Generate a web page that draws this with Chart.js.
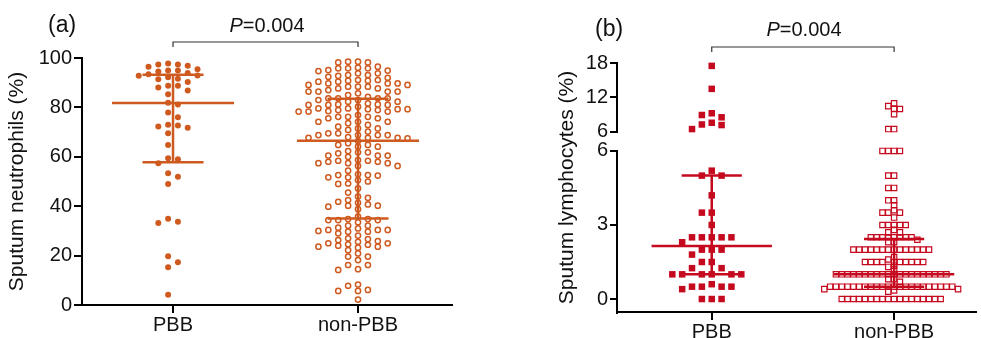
<!DOCTYPE html>
<html>
<head>
<meta charset="utf-8">
<script src="https://cdn.jsdelivr.net/npm/chart.js@4.4.1/dist/chart.umd.min.js"></script>
<style>
  html, body { margin: 0; padding: 0; background: #fff; }
  #wrap { position: relative; width: 981px; height: 338px; overflow: hidden; }
  canvas { position: absolute; top: 0; }
  #chartA { left: 0; }
  #chartB { left: 490px; }
</style>
</head>
<body>
<div id="wrap">
  <canvas id="chartA" width="490" height="338"></canvas>
  <canvas id="chartB" width="491" height="338"></canvas>
</div>
<script>
// ---- data ----
const groups = ["PBB", "non-PBB"];
const pText = "P=0.004";

// (a) sputum neutrophils (%)
const neutPBB = [97.8, 97.4, 97.4, 96.9, 96.5, 95.4, 94.9, 94.9, 94.5, 93.9, 93.4, 92.9, 92.8, 92.2,
  91.6, 91.4, 90.3, 88.8, 88.8, 88.1, 86.8, 85.3, 81.9, 81.2, 77.9, 76.0, 73.0, 72.7, 72.3, 71.8,
  69.5, 64.8, 59.4, 59.0, 57.4, 53.3, 51.9, 49.0, 34.9, 33.7, 33.2, 19.7, 17.3, 15.3, 4.2];
const neutNonPBB = [
  90.8, 79.3,
  98.2, 95.8, 90.8, 88.4, 83.7, 81.2, 79.3,
  98.2, 92.8, 89.7, 86.4, 81.2, 78.3, 68.8,
  98.5, 95.1, 88.4, 86.4, 83.7, 81.0, 78.5, 76.2, 74.2, 72.2, 69.5,
  96.1, 93.8, 91.1, 89.1, 87.0, 84.3, 81.6, 78.9, 76.2, 74.2, 71.5, 68.8,
  98.5, 95.8, 93.1, 90.4, 88.4, 86.4, 83.7, 81.0, 78.9, 76.2, 73.6, 70.9, 68.8,
  95.8, 93.1, 90.4, 87.7, 85.0, 82.3, 79.6, 76.9, 74.2, 71.5, 68.8,
  94.7, 92.4, 89.7, 86.4, 83.7, 81.0, 78.3, 75.6, 72.9, 70.2,
  94.9, 89.7, 87.7, 85.7, 83.0, 80.3, 78.3, 75.6, 69.5,
  96.5, 93.8, 91.1, 89.1, 82.3, 79.6,
  92.0, 83.0, 79.3,
  58.4,
  60.5, 57.4, 52.9,
  67.5, 64.8, 61.8, 57.4, 40.2,
  67.7, 65.5, 60.5, 57.4, 51.7, 49.2, 42.5, 40.2,
  68.0, 64.1, 60.0, 58.0, 56.3, 54.4, 52.6, 50.6, 49.0, 47.2, 45.5, 43.9, 41.8, 39.8,
  67.7, 64.8, 61.8, 52.6, 50.0, 43.4, 41.4, 38.8,
  67.7, 64.1, 60.5, 58.0, 51.7, 40.7,
  66.4, 61.4, 58.7, 56.3, 52.4,
  62.3, 58.4,
  30.4, 25.0,
  33.5, 31.0, 27.0, 24.6,
  34.8, 29.0, 25.9, 23.6, 7.8,
  34.4, 31.3, 29.7, 23.2, 20.9, 19.6, 16.2, 14.2, 5.7,
  35.8, 32.1, 26.7, 22.2, 19.6, 16.2, 5.7, 2.2,
  34.8, 32.1, 30.0, 23.6, 18.2, 14.5, 8.3, 6.1,
  34.4, 29.7, 25.6, 24.0,
  34.4, 30.4, 28.1, 26.3, 25.0,
  30.4, 24.4];
const neutMedian = [81.8, 66.5];
const neutQ1 = [57.8, 35.0];
const neutQ3 = [93.2, 83.5];
const neutTicks = [0, 20, 40, 60, 80, 100];

// (b) sputum lymphocytes (%), axis broken at 6
const lymPBB = [17.5, 13.5, 9.25, 8.95, 8.55, 7.6, 7.3, 7.2, 6.5,
  5.2, 5.0, 5.0, 4.2, 3.5, 3.5, 3.0, 2.5, 2.5, 2.5, 2.5, 2.5, 2.3, 2.0, 2.0, 2.0, 1.8,
  1.5, 1.5, 1.25, 1.25, 1.0, 1.0, 1.0, 1.0, 1.0, 1.0, 0.6, 0.5, 0.5, 0.5, 0.5, 0.4, 0, 0, 0];
const lymNonPBB = [11.0, 10.5, 10.0, 10.0, 9.1, 6.5, 6.5,
  6.0, 6.0, 6.0, 6.0, 5.0, 5.0, 4.5, 4.5, 4.0, 4.0, 3.8, 3.6, 3.5, 3.5, 3.5, 3.3,
  3.0, 3.0, 3.0, 3.0, 3.0, 2.8, 2.7, 2.7,
  2.5, 2.5, 2.5, 2.5, 2.5, 2.5, 2.5, 2.5, 2.4, 2.3, 2.3,
  2.0, 2.0, 2.0, 2.0, 2.0, 2.0, 2.0, 2.0, 2.0, 2.0, 2.0, 2.0, 2.0, 2.0,
  1.7, 1.6, 1.5, 1.5, 1.5, 1.5, 1.5, 1.5, 1.5, 1.5, 1.5, 1.5, 1.35, 1.3, 1.2,
  1.0, 1.0, 1.0, 1.0, 1.0, 1.0, 1.0, 1.0, 1.0, 1.0, 1.0, 1.0, 1.0, 1.0, 1.0, 1.0, 1.0, 1.0, 1.0, 1.0,
  0.8, 0.8, 0.7,
  0.5, 0.5, 0.5, 0.5, 0.5, 0.5, 0.5, 0.5, 0.5, 0.5, 0.5, 0.5, 0.5, 0.5, 0.5, 0.5, 0.5, 0.5, 0.5, 0.5, 0.5, 0.5,
  0.4, 0.4, 0.35, 0.3,
  0, 0, 0, 0, 0, 0, 0, 0, 0, 0, 0, 0, 0, 0, 0, 0, 0, 0];
const lymMedian = [2.15, 1.0];
const lymQ1 = [1.0, 0.5];
const lymQ3 = [5.0, 2.43];
const lymTicksLow = [0, 3, 6];
const lymTicksHigh = [6, 12, 18];

// ---- styling ----
const FONT = '"Liberation Sans", Arial, Helvetica, sans-serif';
const colA = "#cf5a1f";
const colB = "#c5091e";
const PX_PER_CAT = 185;          // pixels between the two groups
const MED_HALF = 0.33, IQR_HALF = 0.165;

// broken axis: above 6 the scale is compressed
const BREAK = 6, GAP = 0.769, RATIO = 0.2328;
const toDisp = (v) => (v <= BREAK ? v : BREAK + GAP + (v - BREAK) * RATIO);
const fromDisp = (d) => (d <= BREAK ? d : BREAK + (d - BREAK - GAP) / RATIO);

// column-dodge layout, like a scatter dot plot
function swarm(values, center, opt) {
  const placed = [];
  return values.slice().sort((a, b) => b - a).map((v) => {
    const ypx = v * opt.pxPerUnit;
    for (let k = 0; k < 200; k++) {
      const col = opt.half
        ? (k % 2 ? 1 : -1) * (Math.floor(k / 2) + 0.5)
        : (k === 0 ? 0 : (k % 2 ? -1 : 1) * Math.ceil(k / 2));
      if (!placed.some((p) => p.col === col && Math.abs(p.ypx - ypx) < opt.minDy)) {
        placed.push({ col, ypx });
        return { x: center + col * opt.spacing / PX_PER_CAT, y: v };
      }
    }
  });
}

function summaryLines(med, q1, q3, color, map = (v) => v) {
  const out = [];
  [0, 1].forEach((i) => {
    const c = i + 1;
    const mk = (data) => ({ data, showLine: true, pointRadius: 0, borderColor: color, borderWidth: 2.5, order: 0, clip: false });
    out.push(mk([{ x: c - MED_HALF, y: map(med[i]) }, { x: c + MED_HALF, y: map(med[i]) }]));
    out.push(mk([{ x: c - IQR_HALF, y: map(q1[i]) }, { x: c + IQR_HALF, y: map(q1[i]) }]));
    out.push(mk([{ x: c - IQR_HALF, y: map(q3[i]) }, { x: c + IQR_HALF, y: map(q3[i]) }]));
    out.push(mk([{ x: c, y: map(q1[i]) }, { x: c, y: map(q3[i]) }]));
  });
  return out;
}

function decor(tag, tagX, tagY, pX, pY, brY, brDrop) {
  return {
    id: "decor",
    afterDraw(chart) {
      const { ctx, scales: { x } } = chart;
      ctx.save();
      ctx.fillStyle = "#111";
      ctx.textBaseline = "middle";
      ctx.textAlign = "left";
      ctx.font = "23px " + FONT;
      ctx.fillText(tag, tagX, tagY);
      const rest = pText.slice(1);
      ctx.font = "italic 20px " + FONT;
      const wP = ctx.measureText("P").width;
      ctx.font = "20px " + FONT;
      const wR = ctx.measureText(rest).width;
      const sx = pX - (wP + wR) / 2;
      ctx.font = "italic 20px " + FONT;
      ctx.fillText("P", sx, pY);
      ctx.font = "20px " + FONT;
      ctx.fillText(rest, sx + wP, pY);
      const x1 = x.getPixelForValue(1), x2 = x.getPixelForValue(2);
      ctx.strokeStyle = "#333";
      ctx.lineWidth = 1.2;
      ctx.beginPath();
      ctx.moveTo(x1, brY + brDrop);
      ctx.lineTo(x1, brY);
      ctx.lineTo(x2, brY);
      ctx.lineTo(x2, brY + brDrop);
      ctx.stroke();
      ctx.restore();
    },
  };
}

const brokenAxis = {
  id: "brokenAxis",
  afterDraw(chart) {
    const { ctx, chartArea, scales: { y } } = chart;
    const x0 = chartArea.left - 1;
    ctx.save();
    ctx.strokeStyle = "#000";
    ctx.lineWidth = 2;
    ctx.beginPath();
    ctx.moveTo(x0, y.getPixelForValue(toDisp(lymTicksHigh[2])) - 1);
    ctx.lineTo(x0, y.getPixelForValue(toDisp(lymTicksHigh[0] + 1e-9)));
    ctx.moveTo(x0, y.getPixelForValue(lymTicksLow[2]) - 1);
    ctx.lineTo(x0, chartArea.bottom + 2);
    ctx.stroke();
    ctx.restore();
  },
};

function xScale(min, max, h) {
  return {
    type: "linear", min, max,
    afterBuildTicks: (s) => { s.ticks = [{ value: 1 }, { value: 2 }]; },
    afterFit: (s) => { s.height = h; },
    ticks: { callback: (v) => groups[v - 1], font: { family: FONT, size: 20 }, color: "#111", padding: 0, autoSkip: false, maxRotation: 0 },
    grid: { drawOnChartArea: false, tickLength: 8, lineWidth: 2, color: "#000" },
    border: { color: "#000", width: 2 },
  };
}

const tickFont = { family: FONT, size: 20 };
const titleFont = { family: FONT, size: 21 };

// ---- panel (a) ----
new Chart(document.getElementById("chartA"), {
  type: "scatter",
  data: {
    datasets: [
      ...summaryLines(neutMedian, neutQ1, neutQ3, colA),
      { data: swarm(neutPBB, 1, { pxPerUnit: 2.47, spacing: 9.8, minDy: 6, half: true }),
        pointStyle: "circle", pointRadius: 3, backgroundColor: colA, borderWidth: 0, order: 1, clip: false },
      { data: swarm(neutNonPBB, 2, { pxPerUnit: 2.47, spacing: 9.9, minDy: 5.6, half: false }),
        pointStyle: "circle", pointRadius: 2.6, backgroundColor: "rgba(0,0,0,0)", borderColor: colA, borderWidth: 1.5, order: 1, clip: false },
    ],
  },
  options: {
    responsive: false,
    animation: false,
    events: [],
    layout: { padding: { left: 0, right: 38, top: 58, bottom: 0 } },
    plugins: { legend: { display: false }, tooltip: { enabled: false } },
    scales: {
      x: xScale(0.508, 2.508, 33),
      y: {
        min: 0, max: 100,
        afterBuildTicks: (s) => { s.ticks = neutTicks.map((v) => ({ value: v })); },
        afterFit: (s) => { s.width = 82; },
        ticks: { font: tickFont, color: "#111", padding: 2 },
        grid: { drawOnChartArea: false, tickLength: 8, lineWidth: 2, color: "#000" },
        border: { color: "#000", width: 2 },
        title: { display: true, text: "Sputum neutrophils (%)", font: titleFont, color: "#111", padding: { top: 5, bottom: 0 } },
      },
    },
  },
  plugins: [decor("(a)", 48, 26, 267, 26, 42, 5)],
});

// ---- panel (b) ----
new Chart(document.getElementById("chartB"), {
  type: "scatter",
  data: {
    datasets: [
      ...summaryLines(lymMedian, lymQ1, lymQ3, colB, toDisp),
      { data: swarm(lymPBB.map(toDisp), 1, { pxPerUnit: 24.68, spacing: 10, minDy: 6.8, half: false }),
        pointStyle: "rect", pointRadius: 4.6, backgroundColor: colB, borderWidth: 0, order: 1, clip: false },
      { data: swarm(lymNonPBB.map(toDisp), 2, { pxPerUnit: 24.68, spacing: 5.9, minDy: 3, half: false }),
        pointStyle: "rect", pointRadius: 3.8, backgroundColor: "rgba(0,0,0,0)", borderColor: colB, borderWidth: 1.2, order: 1, clip: false },
    ],
  },
  options: {
    responsive: false,
    animation: false,
    events: [],
    layout: { padding: { left: 60, right: 0, top: 63, bottom: 0 } },
    plugins: { legend: { display: false }, tooltip: { enabled: false } },
    scales: {
      x: xScale(0.486, 2.448, 26),
      y: {
        min: -0.526, max: toDisp(18),
        afterBuildTicks: (s) => {
          s.ticks = lymTicksLow.concat(lymTicksHigh).map((v, i) => ({ value: i < lymTicksLow.length ? v : toDisp(v + (v === BREAK ? 1e-9 : 0)) }));
        },
        afterFit: (s) => { s.width = 68; },
        ticks: { font: tickFont, color: "#111", padding: 2, callback: (v) => String(Math.round(fromDisp(v))) },
        grid: { drawOnChartArea: false, tickLength: 8, lineWidth: 2, color: "#000" },
        border: { display: false },
        title: { display: true, text: "Sputum lymphocytes (%)", font: titleFont, color: "#111", padding: { top: 5, bottom: 0 } },
      },
    },
  },
  plugins: [decor("(b)", 105, 30, 314, 30, 47, 5), brokenAxis],
});
</script>
</body>
</html>
